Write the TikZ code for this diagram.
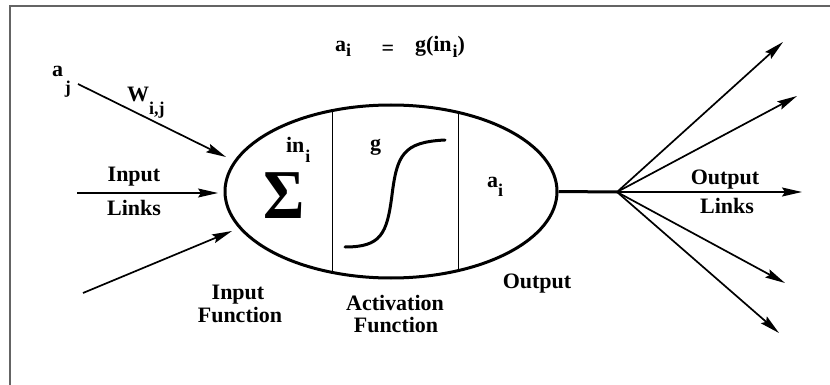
\documentclass[tikz,border=0pt]{standalone}
\usepackage{fontspec}
\setmainfont{Liberation Serif}
\usetikzlibrary{arrows.meta,shapes.geometric}
\definecolor{framegray}{RGB}{100,100,100}
\newcommand\lowsub[2]{\raisebox{-#1pt}{\fontsize{18}{18}\selectfont #2}}
\tikzset{
  lbl/.style={inner sep=0pt, outer sep=0pt, font=\fontsize{22}{24}\selectfont\bfseries},
  link/.style={line width=1.7pt, -{Stealth[length=20pt,width=9pt,inset=3pt]}},
  thick line/.style={line width=3pt},
  divider/.style={line width=0.8pt}
}
\begin{document}
\begin{tikzpicture}[x=1pt,y=-1pt]
\useasboundingbox (0,0) rectangle (830,385);
% frame
\draw[framegray, line width=2pt] (10,386) -- (10,6) -- (831,6);

% neuron body
\node[draw, ellipse, thick line, minimum width=332pt, minimum height=173pt, inner sep=0pt] (neuron) at (391,191.5) {};
\begin{scope}
  \clip (391,191.5) ellipse [x radius=166, y radius=86.5];
  \draw[divider] (332,90) -- (332,300);
  \draw[divider] (458,90) -- (458,300);
\end{scope}

% sigmoid
\draw[thick line, line cap=round] (345,247) .. controls (381,247) and (387,234) .. (392,195)
  .. controls (397,155) and (403,142) .. (445,140);

% texts inside
\node[lbl, font=\fontsize{70}{70}\selectfont\bfseries, xscale=0.9] (sigma) at (284,196) {Σ};
\node[lbl, anchor=base west] (ini) at (286,153) {in\hspace{1pt}\lowsub{10}{i}};
\node[lbl, anchor=base west] (glbl) at (370,151) {g};
\node[lbl, anchor=base west] (ai) at (487,187) {a\lowsub{9}{i}};

% top formula
\node[lbl, anchor=base west] (fa) at (335,52) {a\lowsub{5}{i}};
\node[lbl] (feq) at (388,50) {=};
\node[lbl, anchor=base west] (fg) at (415,52) {g(in\hspace{1pt}\lowsub{6}{i})};

% input side
\coordinate (s1) at (78,84);  \coordinate (t1) at (226,157);
\coordinate (s2) at (77,193); \coordinate (t2) at (218,193);
\coordinate (s3) at (83,293); \coordinate (t3) at (232,231);
\draw[link] (s1) -- (t1);
\draw[link, line width=1.3pt] (s2) -- (t2);
\draw[link] (s3) -- (t3);
\node[lbl, anchor=base west] (aj) at (52,77) {a\hspace{2pt}\lowsub{17}{j}};
\node[lbl, anchor=base west] (wij) at (127,102) {W\lowsub{13}{i,j}};
\node[lbl, anchor=base] (inlinks1) at (134,182) {Input};
\node[lbl, anchor=base] (inlinks2) at (134,215) {Links};
\node[lbl, anchor=base] (infun1) at (238,299) {Input};
\node[lbl, anchor=base] (infun2) at (240,322) {Function};
\node[lbl, anchor=base] (actfun1) at (395,310) {Activation};
\node[lbl, anchor=base] (actfun2) at (396,332) {Function};
\node[lbl, anchor=base] (outlbl) at (537,288) {Output};

% output side
\coordinate (hub) at (617,192);
\draw[thick line] (neuron.east) -- (hub);
\coordinate (o1) at (783,42);
\coordinate (o2) at (797,96);
\coordinate (o3) at (802,192);
\coordinate (o4) at (785,283);
\coordinate (o5) at (779,333);
\foreach \o in {o1,o2,o3,o4,o5} \draw[link] (hub) -- (\o);
\node[lbl, anchor=base] (outlinks1) at (725,184) {Output};
\node[lbl, anchor=base] (outlinks2) at (727,213) {Links};
\end{tikzpicture}
\end{document}
